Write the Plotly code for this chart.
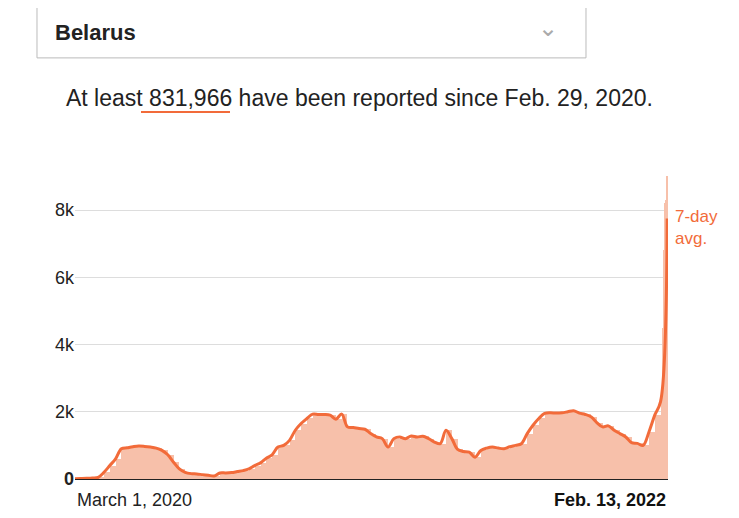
import plotly.graph_objects as go
import pandas as pd

avg_weekly = [10, 15, 20, 30, 50, 200, 400, 600, 900, 930, 960, 980, 970, 950, 920, 850, 720, 500, 300, 200,
              160, 150, 130, 110, 90, 180, 180, 190, 220, 250, 300, 400, 480, 620, 720, 950, 1000, 1150, 1450, 1650,
              1800, 1930, 1920, 1920, 1900, 1780, 1930, 1550, 1530, 1500, 1480, 1350, 1250, 1200, 950, 1200, 1250, 1200,
              1280, 1250, 1270, 1200, 1100, 1050, 1450, 1200, 880, 820, 800, 650, 850, 920, 950, 920, 900, 960, 1000,
              1050, 1350, 1600, 1800, 1950, 1970, 1960, 1970, 2000, 2030, 1960, 1920, 1850, 1680, 1550, 1580, 1450,
              1350, 1250, 1080, 1060, 1000, 1400, 1900, 2300]
avg_last = 7750
daily_end = [2500, 4500, 6800, 8200, 8300, 8400, 9000]
tick_labels = ["March 1, 2020", "Feb. 13, 2022"]
y_ticks = [0, 2000, 4000, 6000, 8000]
y_labels = ["<b>0</b>", "2k", "4k", "6k", "8k"]

start = pd.Timestamp("2020-02-29")
end = pd.Timestamp("2022-02-13")
wdates = pd.date_range(start, periods=len(avg_weekly), freq="7D")
line_x = list(wdates) + [end]
line_y = avg_weekly + [avg_last]
ddates = pd.date_range(end - pd.Timedelta(days=len(daily_end) - 1), end)
nweek_bars = len(avg_weekly) - 1

ORANGE = "#f26b3a"
BAR = "#f7c0aa"
fig = go.Figure()
fig.add_bar(x=wdates[:nweek_bars], y=avg_weekly[:nweek_bars], width=7 * 86400000, offset=0,
            marker=dict(color=BAR, line_width=0))
fig.add_bar(x=ddates, y=daily_end, width=0.8 * 86400000, marker=dict(color=BAR, line_width=0))
fig.add_scatter(x=line_x, y=line_y, mode="lines", line=dict(color=ORANGE, width=3, shape="spline"))

fig.update_layout(
    width=739, height=518, showlegend=False, plot_bgcolor="white", paper_bgcolor="white",
    margin=dict(l=67, r=79, t=160, b=47, autoexpand=False), bargap=0,
    font=dict(family="Liberation Sans, Arial", color="#222"),
    xaxis=dict(range=[start, end + pd.Timedelta(days=1)], showticklabels=False, showgrid=False,
               zeroline=False, showline=False),
    yaxis=dict(range=[0, 9250], tickvals=y_ticks, ticktext=y_labels, gridcolor="#dddddd",
               zeroline=True, zerolinecolor="#222", zerolinewidth=2, tickfont=dict(size=18, color="#222"),
               ticks="", fixedrange=True),
)
fig.add_annotation(x=0, y=-0.03, xref="paper", yref="paper", text=tick_labels[0], showarrow=False,
                   xanchor="left", yanchor="top", font=dict(size=18, color="#222"))
fig.add_annotation(x=1, y=-0.03, xref="paper", yref="paper", text="<b>" + tick_labels[1] + "</b>",
                   showarrow=False, xanchor="right", yanchor="top", font=dict(size=18, color="#111"))
fig.add_annotation(x=1.008, y=0.88, xref="paper", yref="paper", text="7-day<br>avg.", showarrow=False,
                   xanchor="left", yanchor="top", align="left", font=dict(size=17, color=ORANGE))
# dropdown box
fig.add_shape(type="rect", xref="paper", yref="paper", x0=-0.0641, x1=0.8617, y0=1.354, y1=1.527,
              line=dict(color="#bbbbbb", width=1), fillcolor="white")
fig.add_annotation(x=-0.037, y=1.482, xref="paper", yref="paper", text="<b>Belarus</b>", showarrow=False,
                   xanchor="left", font=dict(size=22, color="#222"))
fig.add_annotation(x=0.818, y=1.482, xref="paper", yref="paper", text="⌄", showarrow=False,
                   font=dict(size=24, color="#aaaaaa"), yshift=6)
fig.add_annotation(x=0.4806, y=1.273, xref="paper", yref="paper",
                   text="At least 831,966 have been reported since Feb. 29, 2020.", showarrow=False,
                   font=dict(size=23, color="#222"))
fig.add_shape(type="line", xref="paper", yref="paper", x0=(141 - 75) / 593, x1=(230 - 75) / 593,
              y0=(479 - 112) / 311, y1=(479 - 112) / 311, line=dict(color=ORANGE, width=2))
fig.write_html("out.html")
